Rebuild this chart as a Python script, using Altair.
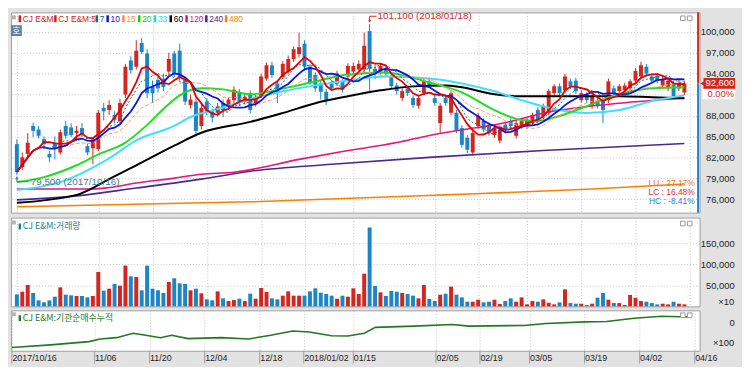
import altair as alt
import pandas as pd

# ------------------------------------------------------------------ data
holidays = ["2017-12-25", "2017-12-29", "2018-01-01", "2018-02-15", "2018-02-16", "2018-03-01"]
days = [d for d in pd.bdate_range("2017-10-16", "2018-04-13") if d.strftime("%Y-%m-%d") not in holidays]

opens = [83900, 80600, 82500, 86500, 86000, 84600, 82500, 84100, 82700, 86500,
         86300, 85500, 86200, 83600, 83300, 83200, 89100, 88800, 88100, 87200,
         91000, 95900, 95000, 98400, 96900, 92100, 93100, 93300, 94300, 96900,
         97300, 93100, 89500, 90000, 86500, 90000, 88600, 88400, 89800, 89200,
         90200, 91400, 90000, 91200, 89800, 90800, 93300, 95200, 92600, 93500,
         94300, 96100, 96800, 98300, 95000, 93800, 92600, 91400, 92600, 92600,
         92800, 93600, 94300, 94600, 94600, 100100, 94700, 94300, 94700, 93600,
         92300, 90500, 91900, 90500, 89400, 91200, 92900, 90500, 86900, 90500,
         88400, 88400, 86200, 84800, 82700, 86500, 87200, 86700, 85200, 84400,
         86700, 87200, 85100, 86500, 86500, 86900, 88800, 87900, 88400, 91200,
         92200, 91600, 92900, 93000, 90200, 90900, 89400, 90100, 90100, 90200,
         91900, 91500, 91600, 91900, 93000, 93600, 95000, 93600, 93700, 92300,
         91900, 92600, 91900, 91300]
highs = [84600, 82700, 85500, 87000, 86500, 85000, 82900, 85000, 86000, 87200,
         86900, 86500, 86900, 84000, 84900, 88800, 89800, 90200, 88600, 90400,
         95400, 96500, 98800, 99100, 97500, 93000, 93600, 94000, 97000, 97300,
         98300, 93500, 91000, 90500, 89600, 90500, 89000, 89800, 90300, 90600,
         92200, 91800, 91100, 91600, 91000, 94000, 95600, 95700, 93000, 95800,
         96600, 97900, 99900, 98800, 95400, 94200, 93000, 91800, 93100, 94400,
         93200, 95500, 95600, 95900, 99900, 101100, 95300, 95500, 95000, 94000,
         92700, 91900, 92300, 90900, 90900, 93300, 93400, 90900, 89800, 90900,
         91600, 88800, 86600, 85200, 85900, 88400, 87600, 87000, 86600, 86300,
         87000, 87600, 87300, 87600, 87800, 88400, 89200, 89700, 91800, 92500,
         92600, 94000, 93300, 93400, 91600, 91300, 91100, 90500, 90500, 93300,
         92300, 92500, 92700, 93200, 94800, 95700, 95400, 94000, 94100, 93700,
         93400, 93000, 93200, 93000]
lows = [79500, 80200, 82000, 84900, 84700, 83200, 81300, 81700, 82400, 84700,
        84900, 84400, 84900, 82300, 81000, 82900, 87300, 88100, 86900, 86700,
        90500, 94000, 94600, 96800, 90500, 89800, 91300, 91500, 93800, 93500,
        93000, 89500, 89000, 85000, 86000, 88000, 87000, 87900, 87800, 88800,
        89800, 89400, 89600, 88300, 89300, 90500, 93000, 93400, 89800, 93200,
        94000, 95700, 96300, 94400, 92400, 91400, 90300, 89500, 91500, 92200,
        91300, 93200, 93900, 94200, 94000, 91200, 93200, 93900, 93600, 91800,
        91000, 90100, 90800, 89100, 89000, 90900, 92000, 89400, 85500, 89400,
        88000, 85500, 83400, 82600, 82300, 86100, 85600, 85100, 84800, 84000,
        85600, 86100, 84700, 86100, 86100, 86500, 87000, 87500, 88000, 90800,
        90800, 91200, 91800, 91100, 89800, 89800, 89000, 89000, 86900, 89800,
        90800, 91100, 91200, 91500, 92600, 93200, 93600, 92600, 92600, 91900,
        91500, 90300, 91500, 90900]
closes = [79900, 82000, 84100, 85800, 85100, 83900, 82000, 83200, 85600, 85100,
          85200, 85800, 85300, 82700, 84600, 88400, 88600, 89500, 87400, 89800,
          95000, 94500, 97300, 97100, 91200, 91200, 91900, 92100, 96100, 94000,
          93500, 90000, 90300, 85800, 89100, 88600, 87700, 89300, 88800, 90300,
          91700, 89800, 90700, 88800, 90700, 93600, 95200, 93800, 91200, 95400,
          96100, 97500, 97800, 95000, 92800, 91900, 91400, 90200, 91900, 94000,
          91700, 95100, 95100, 95400, 98000, 94700, 94000, 95100, 94000, 92200,
          91500, 91500, 91200, 89500, 90500, 92900, 92300, 89800, 89400, 89800,
          91200, 85900, 83800, 83100, 85500, 88000, 86000, 85500, 86200, 86000,
          86000, 86500, 86900, 87200, 87400, 88100, 87400, 89400, 91500, 92200,
          91200, 93600, 92200, 91500, 91200, 90200, 90800, 89400, 88800, 92900,
          91200, 92200, 92300, 92900, 94400, 95200, 94000, 93000, 93000, 93300,
          93000, 90800, 92600, 92600]
volumes = [28570, 34920, 50800, 31750, 14290, 9520, 14290, 23020, 45240, 27780,
           26190, 24600, 24600, 21430, 24600, 81750, 37300, 42060, 53170, 49200,
           96830, 71430, 69840, 38100, 96830, 42060, 38100, 31750, 57940, 66670,
           54760, 53170, 38100, 42060, 30950, 16670, 14290, 35700, 19050, 12700,
           15080, 18250, 12700, 30160, 18250, 43650, 34130, 19050, 16670, 25400,
           35700, 25400, 25400, 25400, 35700, 42860, 32540, 29370, 25400, 18250,
           25400, 23020, 42860, 29370, 77780, 187300, 48410, 33330, 24600, 36510,
           34920, 31750, 29370, 25400, 19050, 50800, 17460, 12700, 27780, 30160,
           46830, 27780, 21430, 11110, 11110, 15870, 9520, 11110, 15870, 5560,
           12700, 19050, 11110, 21430, 4760, 12700, 11110, 16670, 8730, 4760,
           9520, 40480, 7940, 6350, 6350, 3170, 6350, 20630, 31750, 15870,
           7940, 7940, 3170, 26980, 20630, 12700, 11110, 7940, 4760, 6350,
           4760, 11110, 6350, 4760]

# moving averages (trading-day index, price)
ma20_i = [0, 5, 11, 15, 20, 24, 27, 30, 34, 38, 43, 50, 55, 61, 68, 72, 76, 82, 88, 93, 96, 100, 105, 111, 117, 123]
ma20_v = [78460, 79170, 80870, 82420, 84120, 86660, 88930, 90900, 91900, 91750, 91050, 92040, 92890, 93880,
          94160, 93590, 92740, 91330, 88780, 87370, 87230, 87940, 89350, 91050, 91900, 92040]
ma33_i = [0, 8, 17, 22, 29, 32, 37, 43, 49, 55, 61, 68, 76, 82, 88, 93, 99, 105, 111, 117, 123]
ma33_v = [77330, 78460, 81860, 84440, 86520, 87790, 88930, 90340, 91470, 92320, 93030, 93590, 93310, 92600,
          91470, 90200, 88930, 88360, 88780, 90060, 90900]
ma60_i = [0, 11, 17, 22, 29, 34, 43, 49, 55, 61, 67, 73, 79, 82, 88, 93, 99, 111, 117, 123]
ma60_v = [75490, 76620, 78880, 80870, 83690, 85530, 87090, 88360, 89770, 90760, 91610, 92180, 92320, 92040,
          91050, 90760, 90760, 90760, 90620, 90480]
ma120_i = [0, 14, 17, 22, 29, 34, 40, 52, 60, 70, 76, 82, 88, 99, 111, 123]
ma120_v = [77470, 77470, 77680, 78320, 79030, 79590, 79870, 81710, 82850, 84120, 85150, 85960, 86660, 88640,
           89770, 90480]
ma240_i = [0, 11, 22, 34, 43, 58, 76, 97, 123]
ma240_v = [75910, 76480, 77610, 78880, 80020, 81010, 82000, 82990, 83980]
ma480_i = [0, 43, 79, 106, 123]
ma480_v = [74920, 75630, 76620, 77470, 78180]

# institutional net buying, cumulative (x100)
cum_i = [0, 7, 14, 16, 19, 22, 24, 27, 29, 32, 38, 43, 47, 51, 54, 58, 61, 64, 66, 73, 80, 83, 93, 97,
         104, 108, 113, 118, 123]
cum_v = [-2570, -2300, -1970, -1700, -1570, -1130, -1300, -1570, -1330, -1670, -1570, -1700, -1330, -900,
         -1000, -1370, -1400, -1130, -530, -400, -230, -400, -330, -130, 30, 70, 400, 600, 530]

tick_idx = [0, 15, 25, 35, 45, 53, 62, 77, 85, 94, 104, 114, 124]
tick_lab = ["2017/10/16", "11/06", "11/20", "12/04", "12/18", "2018/01/02", "01/15",
            "02/05", "02/19", "03/05", "03/19", "04/02", "04/16"]
price_ticks = [76000, 79000, 82000, 85000, 88000, 91000, 94000, 97000, 100000]
vol_ticks = [50000, 100000, 150000]

legend_lab = ["CJ E&M", "CJ E&M:5", "7", "10", "15", "20", "33", "60", "120", "240", "480"]
legend_col = ["#d42020", "#d42020", "#007878", "#1010d8", "#ff8a55", "#10d010", "#20d8f0",
              "#000000", "#e0107a", "#4a2890", "#ff8000"]

# ------------------------------------------------------------------ style
RED = "#d4261e"
BLUE = "#1a86c6"
GRID = "#c4c4c4"
BG = "#e2e2e2"
FONT = "Liberation Sans, Arial, sans-serif"
KFONT = "Noto Sans CJK KR, sans-serif"
W = 698
H_MAIN, H_VOL, H_CUM = 203, 90, 41
LBL_PAD = 35
legend_px = [9, 45, 87, 98, 114, 130, 146, 162, 178, 198, 218]

# ------------------------------------------------------------------ frames
df = pd.DataFrame({"i": range(len(closes)), "open": opens, "high": highs, "low": lows,
                   "close": closes, "vol": volumes})
df["dir"] = ["up" if c >= o else "down" for o, c in zip(opens, closes)]
COLOR = alt.Color("dir:N", scale=alt.Scale(domain=["up", "down"], range=[RED, BLUE]), legend=None)

X_SCALE = alt.Scale(domain=[-0.18, 124.89], nice=False, zero=False)
label_expr = ("[" + ",".join("'%s'" % s for s in tick_lab) + "][indexof(["
              + ",".join(str(v) for v in tick_idx) + "], datum.value)]")


def x_enc(labels=False):
    ax = dict(values=tick_idx, grid=True, gridColor=GRID, gridDash=[1, 2], ticks=False, tickSize=0,
              domain=False, title=None, labels=labels)
    if labels:
        ax.update(labelExpr=label_expr, labelAlign="left", labelBaseline="top", labelPadding=3,
                  labelFont=FONT, labelFontSize=9, labelColor="#222222", labelOverlap=False,
                  labelFlush=False, labelBound=False)
    return alt.X("i:Q", scale=X_SCALE, axis=alt.Axis(**ax))


def right_axis(values, expr=None):
    ax = dict(orient="right", values=values, format=",.0f", grid=True, gridColor=GRID,
              gridDash=[1, 2], ticks=False, tickSize=0, domain=False, title=None,
              labelAlign="right", labelBaseline="middle", labelPadding=LBL_PAD, labelFont=FONT,
              labelFontSize=9.5, labelColor="#222222")
    if expr:
        ax["labelExpr"] = expr
    return alt.Axis(**ax)


PY_SCALE = alt.Scale(domain=[74075, 102786], nice=False, zero=False)
# the 91,000 label sits under the change-rate box, as in the source
PY_AXIS = right_axis(price_ticks, "datum.value == 91000 ? '' : format(datum.value, ',.0f')")


def yp(field):
    return alt.Y(field + ":Q", scale=PY_SCALE, axis=PY_AXIS)


XM = x_enc(False)

wick = alt.Chart(df).mark_rule(strokeWidth=1).encode(x=XM, y=yp("low"), y2="high:Q", color=COLOR)
body = alt.Chart(df).mark_bar(size=4, orient="vertical").encode(x=XM, y=yp("open"), y2="close:Q",
                                                               color=COLOR)


def ma_calc(n, color, width, dash=None):
    mk = dict(color=color, strokeWidth=width, clip=True)
    if dash:
        mk["strokeDash"] = dash
    return (alt.Chart(df)
            .transform_window(ma="mean(close)", frame=[-(n - 1), 0], sort=[alt.SortField("i")])
            .mark_line(**mk).encode(x=XM, y=yp("ma")))


def ma_read(idx, vals, color, width):
    d = pd.DataFrame({"i": idx, "ma": vals})
    return alt.Chart(d).mark_line(color=color, strokeWidth=width, interpolate="monotone",
                                  clip=True).encode(x=XM, y=yp("ma"))


mas = [
    ma_read(ma480_i, ma480_v, "#ff8000", 1.6),
    ma_read(ma240_i, ma240_v, "#4a2890", 1.6),
    ma_read(ma120_i, ma120_v, "#e8157a", 1.6),
    ma_read(ma60_i, ma60_v, "#000000", 2),
    ma_read(ma33_i, ma33_v, "#3fe0ff", 2),
    ma_read(ma20_i, ma20_v, "#22dd22", 2),
    ma_calc(15, "#ff9a66", 1, [4, 2]),
    ma_calc(10, "#0a14e0", 1.8),
    ma_calc(7, "#007878", 1, [2, 2]),
    ma_calc(5, "#e60000", 1.8),
]

# extreme-value annotations
i_hi = max(range(len(highs)), key=lambda k: highs[k])
i_lo = min(range(len(lows)), key=lambda k: lows[k])
hi_df = pd.DataFrame({"i": [i_hi], "p": [highs[i_hi]],
                      "t": ["%s (%s)" % (format(highs[i_hi], ","), days[i_hi].strftime("%Y/%m/%d"))]})
lo_df = pd.DataFrame({"i": [i_lo], "p": [lows[i_lo]],
                      "t": ["%s (%s)" % (format(lows[i_lo], ","), days[i_lo].strftime("%Y/%m/%d"))]})
LO_COL = "#3b7d92"
ann = [
    alt.Chart(hi_df).mark_rule(color=RED, yOffset=-2, y2Offset=-8).encode(x=XM, y=yp("p"), y2="p:Q"),
    alt.Chart(hi_df).mark_rule(color=RED, yOffset=-8, x2Offset=7).encode(x=XM, x2="i:Q", y=yp("p")),
    alt.Chart(hi_df).mark_point(shape="triangle-down", filled=True, size=10, color=RED, opacity=1,
                                yOffset=-3).encode(x=XM, y=yp("p")),
    alt.Chart(hi_df).mark_text(align="left", baseline="middle", dx=8, dy=-8, color=RED, font=FONT,
                               fontSize=10).encode(x=XM, y=yp("p"), text="t:N"),
    alt.Chart(lo_df).mark_rule(color=LO_COL, yOffset=2, y2Offset=7).encode(x=XM, y=yp("p"), y2="p:Q"),
    alt.Chart(lo_df).mark_rule(color=LO_COL, yOffset=7, x2Offset=12).encode(x=XM, x2="i:Q", y=yp("p")),
    alt.Chart(lo_df).mark_point(shape="triangle-up", filled=True, size=10, color=LO_COL, opacity=1,
                                yOffset=3).encode(x=XM, y=yp("p")),
    alt.Chart(lo_df).mark_text(align="left", baseline="middle", dx=14, dy=7, color=LO_COL, font=FONT,
                               fontSize=10).encode(x=XM, y=yp("p"), text="t:N"),
]

# current price marker on the right edge
last, prev = closes[-1], closes[-2]
cur = pd.DataFrame({"p": [last], "t": [format(last, ",")],
                    "c": ["%.2f%%" % ((last - prev) / prev * 100)]})
curm = [
    alt.Chart(cur).mark_rule(color=RED, strokeWidth=2).encode(x=alt.value(W - 1.5), y=yp("p"),
                                                              y2=alt.value(0)),
    alt.Chart(cur).mark_rule(color=BLUE, strokeWidth=2).encode(x=alt.value(W - 1.5), y=yp("p"),
                                                               y2=alt.value(H_MAIN)),
    alt.Chart(cur).mark_rule(color="white", strokeWidth=10, yOffset=11).encode(
        x=alt.value(W + 3), x2=alt.value(W + LBL_PAD + 1), y=yp("p")),
    alt.Chart(cur).mark_rule(color=RED, strokeWidth=11).encode(x=alt.value(W + 4),
                                                               x2=alt.value(W + LBL_PAD + 1), y=yp("p")),
    alt.Chart(cur).mark_point(shape="triangle-left", filled=True, size=30, color=RED, opacity=1).encode(
        x=alt.value(W + 3), y=yp("p")),
    alt.Chart(cur).mark_text(color="white", font=FONT, fontSize=9.5, align="right",
                             baseline="middle").encode(x=alt.value(W + LBL_PAD), y=yp("p"), text="t:N"),
    alt.Chart(cur).mark_text(color=RED, font=FONT, fontSize=9.5, align="right", baseline="middle",
                             dy=11).encode(x=alt.value(W + LBL_PAD), y=yp("p"), text="c:N"),
    # keeps the grey side strip running to the window edge
    alt.Chart(cur).mark_rule(color=BG, opacity=0).encode(x=alt.value(W + 42), y=alt.value(0),
                                                          y2=alt.value(2)),
]

# LU / LC / HC ratios
hmax, lmin = max(highs), min(lows)
stats = pd.DataFrame({
    "t": ["LU : %.2f%%" % ((hmax - lmin) / lmin * 100),
          "LC : %.2f%%" % ((last - lmin) / lmin * 100),
          "HC : %.2f%%" % ((last - hmax) / hmax * 100)],
    "c": ["#f07020", "#e03030", "#1f80d0"],
    "y": [173, 182, 191],
})
stat_txt = alt.Chart(stats).mark_text(align="right", baseline="middle", font=FONT, fontSize=8.5).encode(
    x=alt.value(W - 5), y=alt.Y("y:Q", scale=None), text="t:N", color=alt.Color("c:N", scale=None))


def panel_icons(y0):
    """small window-control boxes in each panel's corners"""
    d = pd.DataFrame({"px": [W - 17, W - 10]})
    boxes = alt.Chart(d).mark_square(size=22, fill="white", stroke="#9a9a9a", strokeWidth=1,
                                     opacity=1).encode(x=alt.X("px:Q", scale=None), y=alt.value(y0))
    corner = alt.Chart(pd.DataFrame({"a": [1]})).mark_rect(color="#b4b4b4").encode(
        x=alt.value(0), x2=alt.value(5), y=alt.value(y0 - 3), y2=alt.value(y0 + 1))
    return [boxes, corner]


# legend row
leg = pd.DataFrame({"t": legend_lab, "c": legend_col, "px": legend_px})
leg_mark = alt.Chart(leg).mark_rule(strokeWidth=2.5).encode(
    x=alt.X("px:Q", scale=None), y=alt.value(3), y2=alt.value(10), color=alt.Color("c:N", scale=None))
leg_txt = alt.Chart(leg).mark_text(align="left", baseline="middle", dx=3, font=FONT, fontSize=8.5).encode(
    x=alt.X("px:Q", scale=None), y=alt.value(6.5), text="t:N", color=alt.Color("c:N", scale=None))
btn = alt.Chart(pd.DataFrame({"t": ["호"]})).mark_rect(color="#5d7fa6").encode(
    x=alt.value(0), x2=alt.value(11), y=alt.value(13), y2=alt.value(24))
btn_t = alt.Chart(pd.DataFrame({"t": ["호"]})).mark_text(color="white", font=KFONT, fontSize=9,
                                                        baseline="middle").encode(
    x=alt.value(5.5), y=alt.value(18.5), text="t:N")

main = alt.layer(wick, body, *mas, *ann, *curm, stat_txt, *panel_icons(6), leg_mark, leg_txt, btn,
                 btn_t).properties(width=W, height=H_MAIN)

# ------------------------------------------------------------------ volume panel
VY = alt.Y("vol:Q", stack=None, scale=alt.Scale(domain=[0, 210900], nice=False),
           axis=right_axis(vol_ticks))
vol_bars = alt.Chart(df).mark_bar(size=4, orient="vertical").encode(x=XM, y=VY, color=COLOR)
vol_title = pd.DataFrame({"t": ["CJ E&M:거래량"]})
vol_m = alt.Chart(vol_title).mark_rule(strokeWidth=2.5, color="#1f7f8f").encode(
    x=alt.value(9), y=alt.value(6), y2=alt.value(12))
vol_t = alt.Chart(vol_title).mark_text(align="left", baseline="middle", font=KFONT, fontSize=9,
                                       color="#1f7f8f").encode(x=alt.value(12), y=alt.value(9), text="t:N")
vol_x = alt.Chart(pd.DataFrame({"t": ["×10"]})).mark_text(align="right", baseline="middle", font=FONT,
                                                          fontSize=9.5, color="#222222").encode(
    x=alt.value(W + LBL_PAD), y=alt.value(86), text="t:N")
vol = alt.layer(vol_bars, *panel_icons(6), vol_m, vol_t, vol_x).properties(width=W, height=H_VOL)

# ------------------------------------------------------------------ cumulative panel
XB = x_enc(True)
cum_df = pd.DataFrame({"i": cum_i, "v": cum_v})
CY = alt.Y("v:Q", scale=alt.Scale(domain=[-2900, 1200], nice=False, zero=False),
           axis=alt.Axis(orient="right", values=[0], grid=False, ticks=False, tickSize=0, domain=False,
                         title=None, labelAlign="right", labelBaseline="middle", labelPadding=LBL_PAD,
                         labelFont=FONT, labelFontSize=9.5, labelColor="#222222"))
cum_line = alt.Chart(cum_df).mark_line(color="#237823", strokeWidth=1.6).encode(x=XB, y=CY)
cum_title = pd.DataFrame({"t": ["CJ E&M:기관순매수누적"]})
cum_m = alt.Chart(cum_title).mark_rule(strokeWidth=2.5, color="#2a7a2a").encode(
    x=alt.value(9), y=alt.value(5), y2=alt.value(11))
cum_t = alt.Chart(cum_title).mark_text(align="left", baseline="middle", font=KFONT, fontSize=9,
                                       color="#2a7a2a").encode(x=alt.value(12), y=alt.value(8), text="t:N")
cum_x = alt.Chart(pd.DataFrame({"t": ["×100"]})).mark_text(align="right", baseline="middle", font=FONT,
                                                           fontSize=9.5, color="#222222").encode(
    x=alt.value(W + LBL_PAD), y=alt.value(33), text="t:N")
seps = alt.Chart(pd.DataFrame({"i": tick_idx})).mark_rule(color="#a0a0a0").encode(
    x=XB, y=alt.value(H_CUM), y2=alt.value(H_CUM + 13))
cum = alt.layer(cum_line, *panel_icons(5), cum_m, cum_t, cum_x, seps).properties(width=W, height=H_CUM)

chart = (alt.vconcat(main, vol, cum, spacing=2)
         .properties(padding=0, background=BG)
         .configure_view(stroke="#a0a0a0", fill="white"))

chart.save("out.html", embed_options={"renderer": "svg", "actions": False})
